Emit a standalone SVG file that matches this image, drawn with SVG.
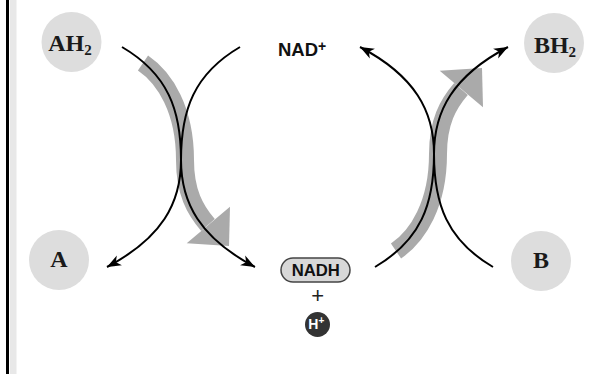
<svg xmlns="http://www.w3.org/2000/svg" width="592" height="374" viewBox="0 0 592 374">
  <defs>
    <style>
      .node { fill: #dddddd; }
      .serif { font-family: "Liberation Serif", "Times New Roman", serif; font-weight: bold; fill: #1a1a1a; }
      .sans { font-family: "Liberation Sans", Arial, sans-serif; font-weight: bold; fill: #111111; }
      .curve { fill: none; stroke: #000000; stroke-width: 2; marker-end: url(#tip); }
      .curve-plain { fill: none; stroke: #000000; stroke-width: 2; }
      .band { fill: none; stroke: #aaaaaa; stroke-width: 18; }
      .bandhead { fill: #aaaaaa; }
    </style>
    <marker id="tip" viewBox="-15 -6 16 12" refX="0" refY="0" markerWidth="16" markerHeight="12" markerUnits="userSpaceOnUse" orient="auto">
      <path d="M0,0 L-14,-5.5 L-10,0 L-14,5.5 Z" fill="#000000"/>
    </marker>
  </defs>

  <rect x="0" y="0" width="592" height="374" fill="#ffffff"/>
  <g id="frame">
    <rect x="10" y="0" width="6.5" height="374" fill="#e8e8e8"/>
    <rect x="6" y="0" width="3" height="374" fill="#000000"/>
  </g>

  <g id="connectors">
    <g id="left-pair">
      <path class="band" d="M143,63 C165,78 185,110 185,160 C185,192 195,210 208,225"/>
      <polygon class="bandhead" points="186.7,243.3 230,206.7 229,246"/>
      <path class="curve" d="M122,47 C168,74 181,110 181,160 C181,203 200,238 255,267"/>
      <path class="curve" d="M240,47 C194,74 181,110 181,160 C181,203 162,238 107,267"/>
    </g>
    <g id="right-pair" transform="translate(253,314) scale(1,-1)">
      <path class="band" d="M143,63 C165,78 185,110 185,160 C185,192 195,210 208,225"/>
      <polygon class="bandhead" points="186.7,243.3 230,206.7 229,246"/>
      <path class="curve" d="M122,47 C168,74 181,110 181,160 C181,203 200,238 255,267"/>
      <path class="curve" d="M240,47 C194,74 181,110 181,160 C181,203 162,238 107,267"/>
    </g>
  </g>

  <g id="node-AH2">
    <circle class="node" cx="71.5" cy="42" r="30"/>
    <text class="serif" x="70" y="51" font-size="24" text-anchor="middle">AH<tspan font-size="15" dy="4">2</tspan></text>
  </g>
  <g id="node-A">
    <circle class="node" cx="59" cy="260" r="30"/>
    <text class="serif" x="59" y="267" font-size="24" text-anchor="middle">A</text>
  </g>
  <g id="node-BH2">
    <circle class="node" cx="554" cy="43" r="30"/>
    <text class="serif" x="555" y="53" font-size="24" text-anchor="middle">BH<tspan font-size="15" dy="4">2</tspan></text>
  </g>
  <g id="node-B">
    <circle class="node" cx="541" cy="261" r="30"/>
    <text class="serif" x="541" y="268" font-size="24" text-anchor="middle">B</text>
  </g>

  <g id="node-NADplus">
    <text class="sans" x="278" y="56" font-size="18.5">NAD<tspan font-size="14" dy="-5">+</tspan></text>
  </g>

  <g id="node-NADH">
    <rect x="281" y="258" width="69" height="24" rx="12" ry="12" fill="#d8d8d8" stroke="#444444" stroke-width="1.5"/>
    <text class="sans" x="315.8" y="276" font-size="16.7" text-anchor="middle">NADH</text>
  </g>

  <g id="plus">
    <text x="317.7" y="303" font-family="Liberation Sans, Arial, sans-serif" font-size="22" fill="#222222" text-anchor="middle">+</text>
  </g>

  <g id="node-Hplus">
    <circle cx="317.5" cy="324.5" r="12.5" fill="#333333"/>
    <text x="308.3" y="329" font-family="Liberation Sans, Arial, sans-serif" font-weight="bold" font-size="14" fill="#ffffff">H<tspan font-size="10" dy="-5">+</tspan></text>
  </g>
</svg>
